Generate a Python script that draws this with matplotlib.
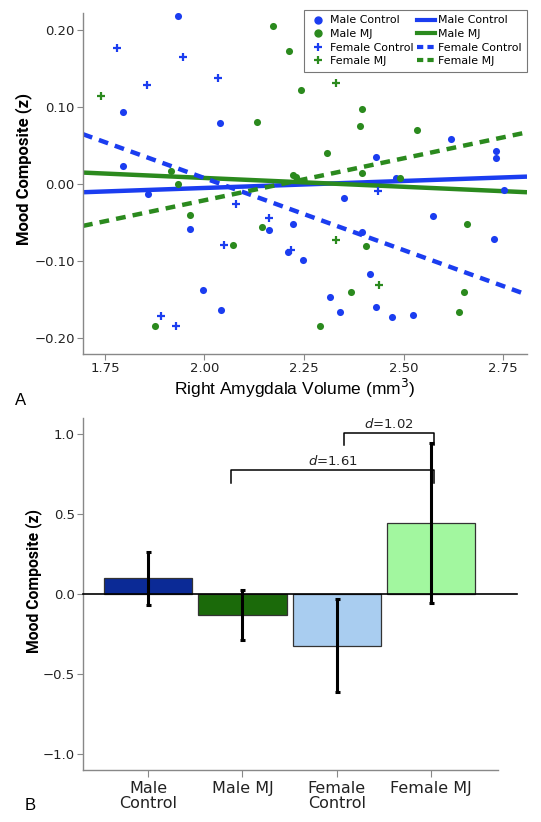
import numpy as np
import matplotlib
matplotlib.use("Agg")
import matplotlib.pyplot as plt
from matplotlib.lines import Line2D

# ---------------- data: panel A ----------------
male_control_x = [1.933, 1.795, 2.040, 1.795, 2.619, 2.430, 2.732, 2.731, 2.481, 1.859,
                  1.964, 2.162, 2.222, 2.209, 2.248, 1.996, 2.041, 2.753, 2.351, 2.573,
                  2.396, 2.728, 2.416, 2.315, 2.432, 2.341, 2.472, 2.524]
male_control_y = [0.218, 0.093, 0.0795, 0.023, 0.058, 0.035, 0.043, 0.033, 0.007, -0.013,
                  -0.059, -0.0605, -0.052, -0.089, -0.099, -0.138, -0.164, -0.008, -0.018, -0.042,
                  -0.063, -0.071, -0.117, -0.147, -0.160, -0.167, -0.1725, -0.170]

male_mj_x = [2.173, 2.212, 2.243, 2.132, 1.915, 2.222, 2.230, 2.395, 2.391, 2.534,
             2.309, 2.396, 2.490, 1.933, 1.963, 2.144, 2.072, 1.876, 2.660, 2.406,
             2.368, 2.653, 2.639, 2.290]
male_mj_y = [0.205, 0.172, 0.1215, 0.080, 0.017, 0.0117, 0.0095, 0.097, 0.075, 0.070,
             0.040, 0.014, 0.007, 0.000, -0.040, -0.056, -0.0795, -0.184, -0.052, -0.081,
             -0.1405, -0.141, -0.166, -0.184]

female_control_x = [1.780, 1.945, 1.855, 2.033, 2.078, 2.162, 2.050, 2.217, 1.892, 1.928, 2.436]
female_control_y = [0.176, 0.165, 0.129, 0.138, -0.0255, -0.0445, -0.0795, -0.086, -0.1716, -0.184, -0.009]

female_mj_x = [1.740, 2.330, 2.330, 2.438]
female_mj_y = [0.1145, 0.131, -0.0726, -0.132]

# fit lines (slope, intercept)
fit_groups = ["Male Control", "Male MJ", "Female Control", "Female MJ"]
fit_slope = [0.0182, -0.0229, -0.187, 0.109]
fit_intercept = [-0.0417, 0.0535, 0.3815, -0.2393]

# ---------------- data: panel B ----------------
bar_categories = ["Male\nControl", "Male MJ", "Female\nControl", "Female MJ"]
bar_values = [0.098, -0.132, -0.324, 0.443]
bar_err_low = [0.167, 0.156, 0.292, 0.501]
bar_err_high = [0.167, 0.157, 0.295, 0.502]
effect_labels = ["d=1.61", "d=1.02"]

BLUE = "#1b3df0"
GREEN = "#2b8a1e"
SPINE = "#888888"

fig = plt.figure(figsize=(5.41, 8.22), dpi=100)

# ---------------- panel A ----------------
ax = fig.add_axes([83/541, 1-354/822, (527-83)/541, (354-13)/822])
ms = 26
ax.scatter(male_control_x, male_control_y, s=ms, c=BLUE, marker="o", linewidths=0, zorder=3)
ax.scatter(male_mj_x, male_mj_y, s=ms, c=GREEN, marker="o", linewidths=0, zorder=3)
ax.scatter(female_control_x, female_control_y, s=36, c=BLUE, marker="+", linewidths=1.6, zorder=3)
ax.scatter(female_mj_x, female_mj_y, s=36, c=GREEN, marker="+", linewidths=1.6, zorder=3)

xlim = (1.695, 2.81)
xs = np.array(xlim)
line_styles = [(BLUE, "-"), (GREEN, "-"), (BLUE, (0, (2.2, 1.6))), (GREEN, (0, (2.2, 1.6)))]
for (col, ls), m, b in zip(line_styles, fit_slope, fit_intercept):
    ax.plot(xs, m * xs + b, color=col, linestyle=ls, linewidth=3.2, zorder=2,
            solid_capstyle="butt", dash_capstyle="butt")

ax.set_xlim(*xlim)
ax.set_ylim(-0.221, 0.222)
ax.set_xticks([1.75, 2.00, 2.25, 2.50, 2.75])
ax.set_xticklabels(["1.75", "2.00", "2.25", "2.50", "2.75"])
ax.set_yticks([-0.20, -0.10, 0.00, 0.10, 0.20])
ax.set_yticklabels(["\u22120.20", "\u22120.10", "0.00", "0.10", "0.20"])
for s in ["top", "right"]:
    ax.spines[s].set_visible(False)
for s in ["left", "bottom"]:
    ax.spines[s].set_color(SPINE)
    ax.spines[s].set_linewidth(1.0)
ax.tick_params(axis="both", direction="out", length=4, width=0.8, color=SPINE,
               labelsize=9.5, labelcolor="#222222", pad=2)
ax.set_xlabel("Right Amygdala Volume (mm$^3$)", fontsize=12.5, family="Liberation Sans",
              labelpad=4)
ax.xaxis.set_label_coords((295 - 83) / 444, -0.1)
ax.xaxis.label.set_va("center")
ax.set_ylabel("Mood Composite (z)", fontsize=12, fontweight="bold", family="Roboto")
ax.yaxis.set_label_coords((24 - 83) / 444, (354 - 169) / 341)
ax.yaxis.label.set_va("center")

handles = [
    Line2D([], [], marker="o", color=BLUE, linestyle="none", markersize=5),
    Line2D([], [], marker="o", color=GREEN, linestyle="none", markersize=5),
    Line2D([], [], marker="+", color=BLUE, linestyle="none", markersize=6, markeredgewidth=1.6),
    Line2D([], [], marker="+", color=GREEN, linestyle="none", markersize=6, markeredgewidth=1.6),
    Line2D([], [], color=BLUE, linewidth=3),
    Line2D([], [], color=GREEN, linewidth=3),
    Line2D([], [], color=BLUE, linewidth=3, linestyle=(0, (1.5, 1.0))),
    Line2D([], [], color=GREEN, linewidth=3, linestyle=(0, (1.5, 1.0))),
]
labels = fit_groups + fit_groups
leg = ax.legend(handles, labels, ncol=2, fontsize=7.9, loc="upper right",
                bbox_to_anchor=(527/541, 1-10/822), bbox_transform=fig.transFigure,
                frameon=True, fancybox=False, edgecolor="#777777", framealpha=1,
                handlelength=1.6, handletextpad=0.3, columnspacing=0.3,
                labelspacing=0.32, borderpad=0.5, borderaxespad=0)
leg.get_frame().set_linewidth(0.8)
leg.set_zorder(5)

fig.text(15/541, 1-400/822, "A", fontsize=12, family="Liberation Sans", va="center")

# ---------------- panel B ----------------
bx = fig.add_axes([83/541, 1-770/822, (498-83)/541, (770-418)/822])
pos = np.arange(len(bar_categories))
bar_colors = ["#0b2a96", "#1b6a0a", "#a9cdf0", "#a2f79f"]
bx.bar(pos, bar_values, width=0.935, color=bar_colors, edgecolor="#333333", linewidth=0.9,
       zorder=2)
bx.errorbar(pos, bar_values, yerr=[bar_err_low, bar_err_high], fmt="none", ecolor="black",
            elinewidth=2.2, capsize=1.8, capthick=2.2, zorder=4)
bx.set_xlim(-0.693, 3.712)
bx.set_ylim(-1.103, 1.103)
bx.plot([-0.693, 3.911], [0, 0], color="black", linewidth=1.2, zorder=3, clip_on=False)
bx.set_xticks(pos)
bx.set_xticklabels(bar_categories, fontsize=11.5, linespacing=1.0)
bx.set_yticks([-1.0, -0.5, 0.0, 0.5, 1.0])
bx.set_yticklabels(["\u22121.0", "\u22120.5", "0.0", "0.5", "1.0"])
for s in ["top", "right"]:
    bx.spines[s].set_visible(False)
for s in ["left", "bottom"]:
    bx.spines[s].set_color(SPINE)
    bx.spines[s].set_linewidth(1.0)
bx.tick_params(axis="y", direction="out", length=4, width=0.8, color=SPINE,
               labelsize=9.5, labelcolor="#222222", pad=2)
bx.tick_params(axis="x", direction="out", length=5, width=0.8, color=SPINE,
               labelcolor="#222222", pad=3)
bx.set_ylabel("Mood Composite (z)", fontsize=11.3, fontweight="bold", family="Roboto")
bx.yaxis.set_label_coords((34 - 83) / 415, (770 - 581) / 352)
bx.yaxis.label.set_va("center")

# brackets
def bracket(x0, x1, y_top, y_low_l, y_low_r, label, ty):
    bx.plot([x0, x0, x1, x1], [y_low_l, y_top, y_top, y_low_r], color="black",
            linewidth=1.1, zorder=5, clip_on=False)
    bx.text((x0 + x1) / 2, ty, "$d$" + label[1:], ha="center", va="center", fontsize=9.5,
            color="#222222")

bracket(0.878, 3.036, 0.777, 0.696, 0.696, effect_labels[0], 0.835)
bracket(2.081, 3.036, 1.007, 0.934, 0.934, effect_labels[1], 1.065)

fig.text(25/541, 1-805/822, "B", fontsize=12, family="Liberation Sans", va="center")

fig.savefig("out.png", dpi=100)
